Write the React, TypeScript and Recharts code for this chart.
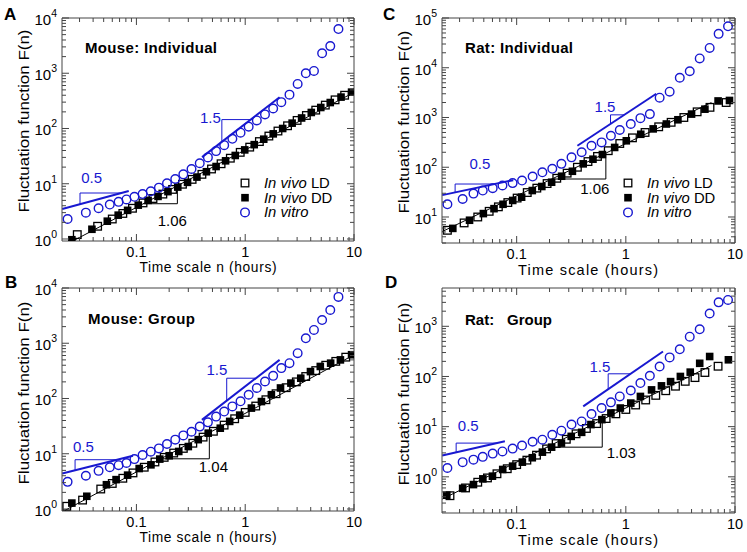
import React from "react";
import {
  ScatterChart,
  Scatter,
  XAxis,
  YAxis,
  ReferenceLine,
  ReferenceDot,
  Legend,
} from "recharts";

// ─── Look ─────────────────────────────────────────────────────────────────────
const FONT = '"Liberation Sans", Arial, Helvetica, sans-serif';
const BLUE = "#1818d0";
const INK = "#000";
const FRAME = "#444";

// ─── Axis ticks (time scale in hours, log) ───────────────────────────────────
const X_DOMAIN: [number, number] = [0.0207, 10];
const X_TICKS = [
  0.03, 0.04, 0.05, 0.06, 0.07, 0.08, 0.09, 0.1, 0.2, 0.3, 0.4, 0.5, 0.6, 0.7,
  0.8, 0.9, 1, 2, 3, 4, 5, 6, 7, 8, 9, 10,
];

// ─── Mouse (panels A, B) ──────────────────────────────────────────────────────
const MOUSE_VITRO_X = [
  0.0233, 0.0343, 0.0449, 0.0569, 0.0686, 0.081, 0.0959, 0.114, 0.1355, 0.161,
  0.191, 0.2275, 0.27, 0.321, 0.382, 0.454, 0.54, 0.641, 0.762, 0.906, 1.076,
  1.279, 1.52, 1.807, 2.148, 2.553, 3.034, 3.606, 4.285, 5.093, 6.053, 7.194,
];
const A_VITRO_Y = [
  2.3, 3.0, 3.6, 4.2, 4.7, 5.2, 5.8, 6.5, 7.3, 8.5, 10.2, 12.2, 14.8, 18.5,
  23.5, 30, 39, 50, 65, 84, 108, 140, 180, 230, 300, 410, 640, 1000, 1100, 2300,
  3100, 6300,
];
const A_DD_X = [
  0.0255, 0.039, 0.054, 0.068, 0.083, 0.104, 0.128, 0.158, 0.195, 0.24, 0.295,
  0.36, 0.44, 0.54, 0.66, 0.81, 0.99, 1.21, 1.48, 1.81, 2.21, 2.7, 3.3, 4.05,
  4.95, 6.05, 7.6, 9.5,
];
const A_DD_Y = [
  0.97, 1.5, 2.1, 2.7, 3.3, 4.1, 5.0, 5.9, 7.2, 8.7, 10.6, 13.2, 16.5, 20.5, 26,
  32.5, 41, 51, 64, 80, 100, 125, 155, 195, 240, 295, 370, 455,
];
const A_LD_X = [
  0.0286, 0.044, 0.06, 0.075, 0.092, 0.115, 0.142, 0.175, 0.215, 0.265, 0.325,
  0.4, 0.49, 0.6, 0.73, 0.9, 1.1, 1.35, 1.65, 2.0, 2.45, 3.0, 3.65, 4.45, 5.45,
  6.7, 8.2,
];
const A_LD_Y = [
  1.2, 1.7, 2.3, 2.9, 3.6, 4.5, 5.4, 6.5, 7.9, 9.8, 12, 14.8, 18.5, 23, 29, 37,
  46, 58, 73, 90, 112, 140, 172, 215, 265, 330, 400,
];

const B_VITRO_Y = [
  3.1, 4.0, 4.9, 5.7, 6.2, 6.8, 8.0, 9.5, 10.9, 12.5, 15, 18, 21.5, 25, 31, 37,
  47, 58, 72, 89, 117, 155, 203, 257, 355, 436, 660, 1230, 1740, 2630, 4000,
  6900,
];
const B_DD_X = [
  0.0255, 0.035, 0.053, 0.065, 0.083, 0.106, 0.136, 0.164, 0.2, 0.245, 0.3,
  0.37, 0.457, 0.59, 0.72, 0.89, 1.14, 1.41, 1.74, 2.11, 2.63, 3.24, 3.98, 4.9,
  6.1, 7.5, 9.5,
];
const B_DD_Y = [
  1.28, 1.7, 2.75, 3.4, 4.1, 5.4, 6.3, 8, 9.2, 11, 13.5, 18, 23.6, 29, 38.5, 50,
  67, 88, 117, 155, 190, 233, 307, 380, 436, 500, 620,
];
const B_LD_X = [
  0.0229, 0.032, 0.047, 0.06, 0.075, 0.093, 0.118, 0.148, 0.18, 0.22, 0.27,
  0.33, 0.41, 0.51, 0.64, 0.8, 1.0, 1.25, 1.55, 1.92, 2.38, 2.95, 3.6, 4.45,
  5.5, 6.8, 8.4,
];
const B_LD_Y = [
  1.12, 1.45, 2.3, 2.9, 3.6, 4.5, 5.7, 7.1, 8.6, 10.3, 12.5, 15.5, 20, 25.5, 33,
  43, 56, 73, 95, 122, 157, 200, 250, 320, 400, 470, 560,
];

// ─── Rat (panels C, D) ────────────────────────────────────────────────────────
const RAT_VITRO_X = [
  0.0232, 0.032, 0.0402, 0.0489, 0.0603, 0.0741, 0.0918, 0.112, 0.14, 0.172,
  0.212, 0.257, 0.318, 0.394, 0.485, 0.6, 0.73, 0.88, 1.11, 1.36, 1.66, 2.04,
  2.52, 3.12, 3.85, 4.75, 5.86, 7.08, 8.63,
];
const C_VITRO_Y = [
  18, 23, 29.5, 34, 38, 43, 48, 54, 65, 79, 93, 117, 158, 200, 270, 316, 430,
  560, 740, 970, 1170, 2500, 3300, 6300, 8500, 15400, 25000, 48000, 68000,
];
const C_DD_X = [
  0.026, 0.037, 0.0495, 0.062, 0.075, 0.092, 0.111, 0.139, 0.17, 0.209, 0.258,
  0.324, 0.407, 0.5, 0.61, 0.79, 1.01, 1.37, 1.78, 2.35, 3.0, 4.0, 5.3, 7.0,
  8.9,
];
const C_DD_Y = [
  5.9, 8.6, 11.7, 14.7, 18, 21.5, 25, 34, 41, 50, 66, 83, 117, 145, 180, 250,
  340, 460, 590, 740, 900, 1170, 1470, 2150, 2200,
];
const C_LD_X = [
  0.0232, 0.033, 0.044, 0.056, 0.068, 0.083, 0.101, 0.125, 0.153, 0.19, 0.233,
  0.29, 0.36, 0.45, 0.55, 0.69, 0.88, 1.15, 1.5, 2.0, 2.6, 3.4, 4.5, 5.9, 8.3,
];
const C_LD_Y = [
  5.4, 7.6, 10, 13, 16, 19.5, 24, 31, 38, 47, 60, 76, 100, 130, 165, 215, 300,
  390, 500, 650, 800, 1000, 1300, 1600, 2000,
];

const D_VITRO_Y = [
  1.5, 1.96, 2.2, 2.5, 2.9, 3.2, 3.65, 4.2, 5.0, 5.5, 6.9, 8.3, 11, 12.7, 17.8,
  23.5, 30.5, 40, 52.5, 74, 103, 158, 240, 348, 620, 870, 1800, 3000, 3350,
];
const D_DD_X = [
  0.0229, 0.032, 0.0402, 0.049, 0.06, 0.0745, 0.0918, 0.1127, 0.139, 0.172,
  0.209, 0.257, 0.316, 0.394, 0.479, 0.603, 0.73, 0.89, 1.11, 1.36, 1.72, 2.12,
  2.57, 3.16, 3.89, 4.75, 5.86, 8.7,
];
const D_DD_Y = [
  0.43, 0.59, 0.7, 0.91, 1.03, 1.4, 1.63, 1.96, 2.4, 3.1, 3.9, 4.7, 6.4, 7.7, 11,
  13.8, 18.7, 23.5, 29.5, 40, 54, 65, 79, 100, 122, 183, 250, 215,
];
const D_LD_X = [
  0.0245, 0.034, 0.044, 0.054, 0.066, 0.082, 0.1, 0.124, 0.152, 0.188, 0.23,
  0.285, 0.35, 0.435, 0.54, 0.66, 0.81, 1.0, 1.23, 1.52, 1.88, 2.32, 2.85, 3.5,
  4.3, 5.3, 7.0,
];
const D_LD_Y = [
  0.42, 0.6, 0.78, 0.95, 1.15, 1.45, 1.75, 2.15, 2.7, 3.6, 4.6, 5.6, 7.2, 9.2,
  11.5, 14.5, 18, 22, 27, 34, 42, 52, 64, 80, 95, 120, 160,
];

// ─── Fit lines (data coordinates) ─────────────────────────────────────────────
type Seg = [[number, number], [number, number]];

const A_FIT_LOW: Seg = [[0.0208, 3.5], [0.085, 7.4]];
const A_FIT_HIGH: Seg = [[0.401, 30.3], [2.07, 368]];
const A_FIT_BLACK: Seg = [[0.0263, 0.93], [10, 450]];

const B_FIT_LOW: Seg = [[0.0208, 4.4], [0.093, 9.2]];
const B_FIT_HIGH: Seg = [[0.4, 41], [2.07, 500]];
const B_FIT_BLACK: Seg = [[0.0221, 0.946], [10, 617]];

const C_FIT_LOW: Seg = [[0.0208, 27.5], [0.093, 55]];
const C_FIT_HIGH: Seg = [[0.36, 270], [1.9, 3000]];
const C_FIT_BLACK: Seg = [[0.0208, 5.1], [6.08, 2000]];

const D_FIT_LOW: Seg = [[0.0208, 2.67], [0.078, 5.1]];
const D_FIT_HIGH: Seg = [[0.407, 25.4], [2.19, 314]];
const D_FIT_BLACK: Seg = [[0.0208, 0.36], [6.08, 165]];

// ─── helpers ──────────────────────────────────────────────────────────────────
type Pt = { x: number; y: number };
const zip = (xs: number[], ys: number[]): Pt[] =>
  xs.map((x, i) => ({ x, y: ys[i] }));

const lg = Math.log10;
const yOnLine = ([[x1, y1], [x2, y2]]: Seg, x: number) =>
  10 ** (lg(y1) + ((lg(x) - lg(x1)) / (lg(x2) - lg(x1))) * (lg(y2) - lg(y1)));
const xOnLine = ([[x1, y1], [x2, y2]]: Seg, y: number) =>
  10 ** (lg(x1) + ((lg(y) - lg(y1)) / (lg(y2) - lg(y1))) * (lg(x2) - lg(x1)));

// slope triangle: vertical side at x, horizontal side at y, both ending on the fit
interface Tri {
  line: Seg;
  x: number;
  y: number;
  up: boolean;
  color: string;
}
function triSegs(t: Tri): Seg[] {
  const ly = yOnLine(t.line, t.x);
  const lx = xOnLine(t.line, t.y);
  return t.up
    ? [
        [[t.x, ly], [t.x, t.y]],
        [[t.x, t.y], [lx, t.y]],
      ]
    : [
        [[lx, t.y], [t.x, t.y]],
        [[t.x, t.y], [t.x, ly]],
      ];
}

function logTicks(lo: number, hi: number) {
  const out: number[] = [];
  for (let e = Math.floor(lg(lo)); e <= Math.ceil(lg(hi)); e++) {
    for (let k = 1; k < 10; k++) {
      const v = Number((k * 10 ** e).toPrecision(6));
      if (v >= lo && v <= hi) out.push(v);
    }
  }
  return out;
}
const isMajor = (v: number) => Math.abs(lg(v) - Math.round(lg(v))) < 1e-6;

// ─── ticks drawn inward, labels outside ──────────────────────────────────────
const tickBottom = (p: any) => {
  const v = p.payload.value;
  const m = isMajor(v);
  return (
    <g>
      <line x1={p.x} x2={p.x} y1={p.y} y2={p.y - (m ? 7 : 4)} stroke={FRAME} />
      {m && (
        <text x={p.x} y={p.y + 15.5} textAnchor="middle" fontSize={14.5} fontFamily={FONT} fill={INK}>
          {String(v)}
        </text>
      )}
    </g>
  );
};
const tickTop = (p: any) => {
  const m = isMajor(p.payload.value);
  return <line x1={p.x} x2={p.x} y1={p.y} y2={p.y + (m ? 7 : 4)} stroke={FRAME} />;
};
const tickLeft = (p: any) => {
  const v = p.payload.value;
  const m = isMajor(v);
  return (
    <g>
      <line x1={p.x} x2={p.x + (m ? 7 : 4)} y1={p.y} y2={p.y} stroke={FRAME} />
      {m && (
        <text x={p.x - 5} y={p.y + 7} textAnchor="end" fontSize={15} fontFamily={FONT} fill={INK}>
          10
          <tspan dy={-8} fontSize={10.5}>
            {Math.round(lg(v))}
          </tspan>
        </text>
      )}
    </g>
  );
};
const tickRight = (p: any) => {
  const m = isMajor(p.payload.value);
  return <line x1={p.x} x2={p.x - (m ? 7 : 4)} y1={p.y} y2={p.y} stroke={FRAME} />;
};

// ─── markers ──────────────────────────────────────────────────────────────────
const OpenSquare = (p: any) => (
  <rect x={p.cx - 3.8} y={p.cy - 3.8} width={7.6} height={7.6} fill="none" stroke={INK} strokeWidth={1.3} />
);
const FilledSquare = (p: any) => (
  <rect x={p.cx - 3.8} y={p.cy - 3.8} width={7.6} height={7.6} fill={INK} />
);
const OpenCircle = (p: any) => (
  <circle cx={p.cx} cy={p.cy} r={4.3} fill="none" stroke={BLUE} strokeWidth={1.4} />
);

function LegendBox() {
  const rows = [
    { mark: <rect x={5.2} y={5.2} width={7.6} height={7.6} fill="none" stroke={INK} strokeWidth={1.3} />, it: "In vivo", rest: " LD" },
    { mark: <rect x={5.2} y={5.2} width={7.6} height={7.6} fill={INK} />, it: "In vivo", rest: " DD" },
    { mark: <circle cx={9} cy={9} r={4.3} fill="none" stroke={BLUE} strokeWidth={1.4} />, it: "In vitro", rest: "" },
  ];
  return (
    <svg width={130} height={48} style={{ display: "block" }}>
      {rows.map((r, i) => (
        <g key={i} transform={`translate(0, ${i * 14.7})`}>
          {r.mark}
          <text x={28} y={14} fontSize={14.8} fontFamily={FONT} fill={INK}>
            <tspan fontStyle="italic">{r.it}</tspan>
            {r.rest}
          </text>
        </g>
      ))}
    </svg>
  );
}

// ─── one panel ────────────────────────────────────────────────────────────────
interface Note {
  x: number;
  y: number;
  text: string;
  color: string;
}
interface PanelCfg {
  left: number;
  top: number;
  margin: { top: number; right: number; bottom: number; left: number };
  yDomain: [number, number];
  ld: Pt[];
  dd: Pt[];
  vitro: Pt[];
  fits: { seg: Seg; color: string; width: number }[];
  tris: Tri[];
  notes: Note[];
  legend?: { left: number; top: number };
}

function Panel({ cfg }: { cfg: PanelCfg }) {
  const yTicks = logTicks(cfg.yDomain[0], cfg.yDomain[1]);
  const thin = cfg.tris.flatMap((t) => triSegs(t).map((s) => ({ seg: s, color: t.color })));
  const axisCommon = {
    type: "number" as const,
    scale: "log" as const,
    allowDataOverflow: true,
    interval: 0 as const,
    tickLine: false,
    tickSize: 0,
    tickMargin: 0,
    axisLine: { stroke: FRAME, strokeWidth: 1 },
  };
  return (
    <div style={{ position: "absolute", left: cfg.left, top: cfg.top }}>
      <ScatterChart width={373} height={276} margin={cfg.margin}>
        <XAxis {...axisCommon} xAxisId="b" dataKey="x" domain={X_DOMAIN} ticks={X_TICKS} height={1} tick={tickBottom} />
        <XAxis {...axisCommon} xAxisId="t" orientation="top" dataKey="x" domain={X_DOMAIN} ticks={X_TICKS} height={1} tick={tickTop} />
        <YAxis {...axisCommon} yAxisId="l" dataKey="y" domain={cfg.yDomain} ticks={yTicks} width={1} tick={tickLeft} />
        <YAxis {...axisCommon} yAxisId="r" orientation="right" dataKey="y" domain={cfg.yDomain} ticks={yTicks} width={1} tick={tickRight} />

        {thin.map((l, i) => (
          <ReferenceLine
            key={"t" + i}
            xAxisId="b"
            yAxisId="l"
            ifOverflow="hidden"
            segment={[{ x: l.seg[0][0], y: l.seg[0][1] }, { x: l.seg[1][0], y: l.seg[1][1] }]}
            stroke={l.color}
            strokeWidth={1}
          />
        ))}
        {cfg.fits.map((f, i) => (
          <ReferenceLine
            key={"f" + i}
            xAxisId="b"
            yAxisId="l"
            ifOverflow="hidden"
            segment={[{ x: f.seg[0][0], y: f.seg[0][1] }, { x: f.seg[1][0], y: f.seg[1][1] }]}
            stroke={f.color}
            strokeWidth={f.width}
          />
        ))}

        <Scatter xAxisId="b" yAxisId="l" name="In vivo DD" data={cfg.dd} shape={FilledSquare} isAnimationActive={false} />
        <Scatter xAxisId="b" yAxisId="l" name="In vivo LD" data={cfg.ld} shape={OpenSquare} isAnimationActive={false} />
        <Scatter xAxisId="b" yAxisId="l" name="In vitro" data={cfg.vitro} shape={OpenCircle} isAnimationActive={false} />

        {cfg.notes.map((n, i) => (
          <ReferenceDot
            key={"n" + i}
            xAxisId="b"
            yAxisId="l"
            x={n.x}
            y={n.y}
            ifOverflow="visible"
            shape={(p: any) => (
              <text x={p.cx} y={p.cy + 5.5} textAnchor="middle" fontSize={15} fontFamily={FONT} fill={n.color}>
                {n.text}
              </text>
            )}
          />
        ))}

        {cfg.legend && (
          <Legend
            layout="vertical"
            align="center"
            verticalAlign="middle"
            wrapperStyle={{ left: cfg.legend.left, top: cfg.legend.top, width: 130, height: 48 }}
            content={() => <LegendBox />}
          />
        )}
      </ScatterChart>
    </div>
  );
}

const blue = (seg: Seg) => ({ seg, color: BLUE, width: 2 });
const black = (seg: Seg) => ({ seg, color: INK, width: 1 });

// axis boxes are 1px deep, so the plot sits 1px inside each margin below
const MOUSE_MARGIN = { top: 17, right: 18, bottom: 34, left: 61 };
const RAT_MARGIN = { top: 17, right: 11, bottom: 32, left: 67 };

const PANELS: PanelCfg[] = [
  {
    left: 0,
    top: 0,
    margin: MOUSE_MARGIN,
    yDomain: [0.92, 10000],
    ld: zip(A_LD_X, A_LD_Y),
    dd: zip(A_DD_X, A_DD_Y),
    vitro: zip(MOUSE_VITRO_X, A_VITRO_Y),
    fits: [black(A_FIT_BLACK), blue(A_FIT_LOW), blue(A_FIT_HIGH)],
    tris: [
      { line: A_FIT_LOW, x: 0.0303, y: 6.8, up: true, color: BLUE },
      { line: A_FIT_HIGH, x: 0.61, y: 145, up: true, color: BLUE },
      { line: A_FIT_BLACK, x: 0.238, y: 4.35, up: false, color: INK },
    ],
    notes: [
      { x: 0.0387, y: 13.2, text: "0.5", color: BLUE },
      { x: 0.478, y: 160, text: "1.5", color: BLUE },
      { x: 0.214, y: 2.2, text: "1.06", color: INK },
    ],
    legend: { left: 236, top: 174 },
  },
  {
    left: 0,
    top: 270,
    margin: MOUSE_MARGIN,
    yDomain: [0.92, 10000],
    ld: zip(B_LD_X, B_LD_Y),
    dd: zip(B_DD_X, B_DD_Y),
    vitro: zip(MOUSE_VITRO_X, B_VITRO_Y),
    fits: [black(B_FIT_BLACK), blue(B_FIT_LOW), blue(B_FIT_HIGH)],
    tris: [
      { line: B_FIT_LOW, x: 0.0273, y: 7.8, up: true, color: BLUE },
      { line: B_FIT_HIGH, x: 0.676, y: 233, up: true, color: BLUE },
      { line: B_FIT_BLACK, x: 0.468, y: 8.1, up: false, color: INK },
    ],
    notes: [
      { x: 0.0325, y: 13.6, text: "0.5", color: BLUE },
      { x: 0.55, y: 330, text: "1.5", color: BLUE },
      { x: 0.51, y: 5.9, text: "1.04", color: INK },
    ],
  },
  {
    left: 374,
    top: 0,
    margin: RAT_MARGIN,
    yDomain: [3, 100000],
    ld: zip(C_LD_X, C_LD_Y),
    dd: zip(C_DD_X, C_DD_Y),
    vitro: zip(RAT_VITRO_X, C_VITRO_Y),
    fits: [black(C_FIT_BLACK), blue(C_FIT_LOW), blue(C_FIT_HIGH)],
    tris: [
      { line: C_FIT_LOW, x: 0.0273, y: 46, up: true, color: BLUE },
      { line: C_FIT_HIGH, x: 0.724, y: 1130, up: true, color: BLUE },
      { line: C_FIT_BLACK, x: 0.656, y: 58, up: false, color: INK },
    ],
    notes: [
      { x: 0.046, y: 117, text: "0.5", color: BLUE },
      { x: 0.645, y: 1630, text: "1.5", color: BLUE },
      { x: 0.52, y: 37, text: "1.06", color: INK },
    ],
    legend: { left: 245, top: 174 },
  },
  {
    left: 374,
    top: 270,
    margin: RAT_MARGIN,
    yDomain: [0.19, 5800],
    ld: zip(D_LD_X, D_LD_Y),
    dd: zip(D_DD_X, D_DD_Y),
    vitro: zip(RAT_VITRO_X, D_VITRO_Y),
    fits: [black(D_FIT_BLACK), blue(D_FIT_LOW), blue(D_FIT_HIGH)],
    tris: [
      { line: D_FIT_LOW, x: 0.0279, y: 4.7, up: true, color: BLUE },
      { line: D_FIT_HIGH, x: 0.689, y: 113, up: true, color: BLUE },
      { line: D_FIT_BLACK, x: 0.608, y: 3.9, up: false, color: INK },
    ],
    notes: [
      { x: 0.036, y: 10.5, text: "0.5", color: BLUE },
      { x: 0.578, y: 158, text: "1.5", color: BLUE },
      { x: 0.91, y: 3.1, text: "1.03", color: INK },
    ],
  },
];

// ─── page texts: panel letters, titles, axis titles ───────────────────────────
const LETTERS = [
  { t: "A", x: 4, y: 20 },
  { t: "B", x: 5, y: 288 },
  { t: "C", x: 383, y: 20 },
  { t: "D", x: 385, y: 288 },
];
const TITLES = [
  { t: "Mouse: Individual", x: 85, y: 53, w: 132 },
  { t: "Mouse: Group", x: 88, y: 324, w: 107 },
  { t: "Rat: Individual", x: 465, y: 53, w: 108 },
];
const X_TITLES = [
  { t: "Time scale n (hours)", x: 208, y: 272, w: 137, fs: 13.8 },
  { t: "Time scale n (hours)", x: 208, y: 542, w: 137, fs: 13.8 },
  { t: "Time scale (hours)", x: 588, y: 275, w: 140, fs: 14.5 },
  { t: "Time scale (hours)", x: 588, y: 545, w: 140, fs: 14.5 },
];
const Y_TITLES = [
  { x: 29, y: 121 },
  { x: 29, y: 393 },
  { x: 409, y: 122 },
  { x: 409, y: 394 },
];

export default function App() {
  return (
    <div
      style={{
        position: "absolute",
        left: 0,
        top: 0,
        width: 747,
        height: 552,
        background: "#fff",
        overflow: "hidden",
        fontFamily: FONT,
      }}
    >
      {PANELS.map((cfg, i) => (
        <Panel key={i} cfg={cfg} />
      ))}
      <svg
        width={747}
        height={552}
        style={{ position: "absolute", left: 0, top: 0, pointerEvents: "none" }}
      >
        {LETTERS.map((l) => (
          <text key={l.t} x={l.x} y={l.y} fontSize={17} fontWeight="bold" fontFamily={FONT} fill={INK}>
            {l.t}
          </text>
        ))}
        {TITLES.map((t) => (
          <text key={t.t} x={t.x} y={t.y} fontSize={15} fontWeight="bold" fontFamily={FONT} fill={INK} textLength={t.w}>
            {t.t}
          </text>
        ))}
        <text y={325} fontSize={15} fontWeight="bold" fontFamily={FONT} fill={INK}>
          <tspan x={465}>Rat:</tspan>
          <tspan x={507}>Group</tspan>
        </text>
        {X_TITLES.map((t, i) => (
          <text
            key={i}
            x={t.x}
            y={t.y}
            textAnchor="middle"
            fontSize={t.fs}
            fontFamily={FONT}
            fill={INK}
            textLength={t.w}
          >
            {t.t}
          </text>
        ))}
        {Y_TITLES.map((t, i) => (
          <text
            key={i}
            x={t.x}
            y={t.y}
            textAnchor="middle"
            fontSize={15}
            fontFamily={FONT}
            fill={INK}
            textLength={183}
            lengthAdjust="spacingAndGlyphs"
            transform={`rotate(-90 ${t.x} ${t.y})`}
          >
            Fluctuation function F(n)
          </text>
        ))}
      </svg>
    </div>
  );
}
